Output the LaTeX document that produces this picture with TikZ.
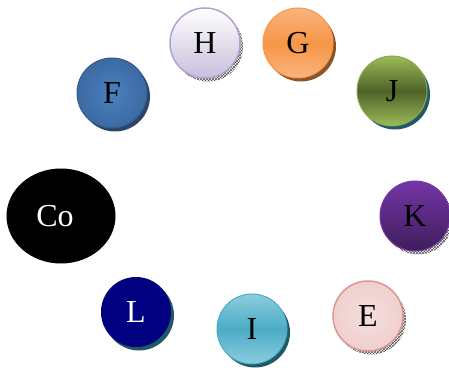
\documentclass[tikz,border=0pt]{standalone}
\usepackage{fontspec}
\setmainfont{Liberation Serif}
\usetikzlibrary{shadows,patterns,shapes.geometric}
\definecolor{fblue}{HTML}{3C6AA2}
\definecolor{fbluel}{HTML}{4A80C0}
\definecolor{fshadow}{HTML}{2B4468}
\definecolor{hlav}{HTML}{C9BEDC}
\definecolor{hborder}{HTML}{B3A2CF}
\definecolor{gor}{HTML}{F79646}
\definecolor{gorl}{HTML}{F9B47E}
\definecolor{gshadow}{HTML}{8A5426}
\definecolor{jgl}{HTML}{9BBB59}
\definecolor{jgd}{HTML}{4F6228}
\definecolor{tshadow}{HTML}{215868}
\definecolor{kpl}{HTML}{7436A6}
\definecolor{kpd}{HTML}{3F1C5C}
\definecolor{epink}{HTML}{F4DEDD}
\definecolor{eborder}{HTML}{D99694}
\definecolor{iteal}{HTML}{4BACC6}
\definecolor{itealL}{HTML}{8CCDDD}
\definecolor{lnavy}{HTML}{000080}
\tikzset{
  ball/.style={circle, minimum size=70pt, inner sep=0pt, font=\fontsize{32}{34}\selectfont},
  solidshadow/.style={drop shadow={shadow xshift=3pt, shadow yshift=-3.5pt, opacity=1, fill=#1}},
  hatchshadow/.style={drop shadow={shadow xshift=3pt, shadow yshift=-3.5pt, opacity=1, fill=gray!40, pattern=crosshatch, pattern color=gray!60!black}},
}
\begin{document}
\begin{tikzpicture}[x=1pt,y=1pt]
\useasboundingbox (0,0) rectangle (449,367);
\node[ellipse, minimum width=109pt, minimum height=95pt, inner sep=0pt, fill=black, text=white, font=\fontsize{32}{34}\selectfont] (co) at (61,151) {Co\rule{12pt}{0pt}};
\node[ball, solidshadow=fshadow, inner color=fbluel, outer color=fblue, draw=fblue!85!black, line width=1pt] (f) at (112,274) {F};
\node[ball, hatchshadow, top color=white, bottom color=hlav, draw=hborder, line width=1.5pt] (h) at (205,324) {H};
\node[ball, solidshadow=gshadow, top color=gorl, bottom color=gorl, middle color=gor, draw=gor, line width=1pt] (g) at (298,324) {G};
\node[ball, solidshadow=tshadow, top color=jgl, bottom color=jgl, middle color=jgd, draw=jgl!90!black, line width=1pt] (j) at (392,276) {J};
\node[ball, hatchshadow, top color=kpl, bottom color=kpd, draw=kpl, line width=1pt] (k) at (415,151) {K};
\node[ball, hatchshadow, inner color=epink, outer color=epink!80!eborder, draw=eborder, line width=1.5pt] (e) at (368,51) {E};
\node[ball, solidshadow=tshadow, top color=itealL, bottom color=itealL, middle color=iteal, draw=iteal, line width=1pt] (i) at (252,38) {I};
\node[ball, solidshadow=tshadow, fill=lnavy, text=white] (l) at (136,55) {L};
\end{tikzpicture}
\end{document}
